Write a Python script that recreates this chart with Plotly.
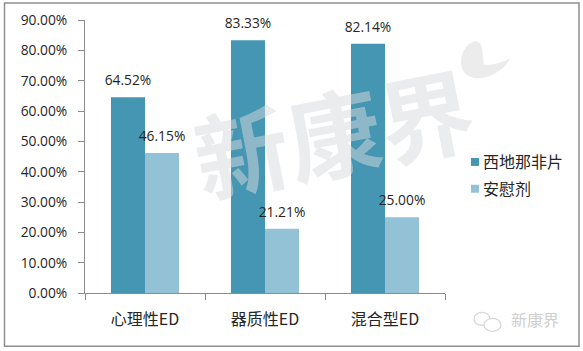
import plotly.graph_objects as go

categories = ["心理性ED", "器质性ED", "混合型ED"]
series_names = ["西地那非片", "安慰剂"]
sildenafil = [0.6452, 0.8333, 0.8214]
placebo = [0.4615, 0.2121, 0.25]
y_ticks = [0, 0.1, 0.2, 0.3, 0.4, 0.5, 0.6, 0.7, 0.8, 0.9]

W, H = 583, 351
L, AX_R, R, T, B = 85, 445, 581, 19.5, 293.5
FONT = "Noto Sans CJK SC"
TEXT = "#262626"
AX = "#8c8c8c"


def px(x):
    return (x - L) / (R - L)


def py(y):
    return (B - y) / (B - T)


def leaf_path():
    p = lambda x, y: f"{px(x):.4f},{py(y):.4f}"
    return (f"M{p(461, 62)} C{p(461, 50)} {p(470, 40)} {p(477, 41)} C{p(484, 42)} {p(482, 56)} {p(484, 64)} "
            f"C{p(492, 66)} {p(502, 62)} {p(510, 58)} C{p(506, 68)} {p(490, 79)} {p(475, 78)} "
            f"C{p(467, 77)} {p(461, 71)} {p(461, 62)} Z")


fig = go.Figure()
for name, vals, col in [(series_names[0], sildenafil, "#4596B2"), (series_names[1], placebo, "#93C2D6")]:
    fig.add_bar(
        x=categories, y=vals, name=name, marker=dict(color=col, line_width=0),
        text=[f"{v:.2%}" for v in vals], textposition="outside", cliponaxis=False,
        constraintext="none", textangle=0,
        textfont=dict(family="Open Sans", size=13.8, color=TEXT),
    )

fig.update_layout(
    width=W, height=H, autosize=False, margin=dict(l=L, r=W - R, t=T, b=H - B),
    paper_bgcolor="white", plot_bgcolor="white", barmode="group", bargap=0.433, bargroupgap=0,
    font=dict(family=FONT, color=TEXT),
    legend=dict(x=px(455), y=py(145), xanchor="left", yanchor="top", bgcolor="rgba(0,0,0,0)",
                font=dict(size=16, family=FONT, color=TEXT), tracegroupgap=0),
    xaxis=dict(domain=[0, px(AX_R)], showgrid=False, showline=True, linecolor=AX, linewidth=1,
               ticks="outside", ticklen=6, ticklabelstandoff=12,
               tickcolor=AX, tickson="boundaries", tickfont=dict(size=16, family=FONT, color=TEXT)),
    yaxis=dict(range=[0, 0.9], tickvals=y_ticks, tickformat=".2%", showgrid=False, zeroline=False,
               showline=True, linecolor=AX, linewidth=1, ticks="outside", ticklen=6, tickcolor=AX,
               ticklabelstandoff=8, tickfont=dict(size=13.8, family="Open Sans", color=TEXT)),
    shapes=[
        dict(type="rect", xref="paper", yref="paper", x0=px(4.5), x1=px(579), y0=py(347), y1=py(2.5),
             line=dict(color="#8f8f8f", width=1.5), fillcolor="rgba(0,0,0,0)", layer="below"),
        dict(type="path", xref="paper", yref="paper", path=leaf_path(), fillcolor="#ececec", line_width=0,
             layer="below"),
        dict(type="circle", xref="paper", yref="paper", x0=px(474), x1=px(490), y0=py(326), y1=py(313),
             line=dict(color="#d8d8d8", width=1.2)),
        dict(type="circle", xref="paper", yref="paper", x0=px(484), x1=px(501), y0=py(332), y1=py(319),
             line=dict(color="#d8d8d8", width=1.2), fillcolor="white"),
    ],
    annotations=[
        dict(text="<b>新康界</b>", xref="paper", yref="paper", x=px(333), y=py(130), xanchor="center",
             yanchor="middle", showarrow=False, textangle=-11,
             font=dict(size=94, family=FONT, color="rgba(215,218,220,0.5)")),
        dict(text="新康界", xref="paper", yref="paper", x=px(535), y=py(320), xanchor="center", yanchor="middle",
             showarrow=False, font=dict(size=16, family=FONT, color="#cfcfcf")),
    ],
)
fig.write_html(
    "out.html",
    config={"displayModeBar": False},
    post_script="""document.body.style.margin='0';
document.querySelectorAll('.legendtext').forEach(t=>t.setAttribute('x','28'));
document.querySelectorAll('.legendpoints path').forEach(p=>p.setAttribute('d','M4,4H-4V-4H4Z'));
document.querySelectorAll('.legend .scrollbox').forEach(s=>s.removeAttribute('clip-path'));
document.querySelectorAll('.legend .traces').forEach((t,i)=>{if(i==1)t.setAttribute('transform',t.getAttribute('transform').replace(/,\\s*([\\d.]+)\\)/,(m,y)=>','+(parseFloat(y)+3)+')'));});
document.querySelectorAll('.bars .bartext').forEach(t=>t.setAttribute('transform','translate(0,-5) '+(t.getAttribute('transform')||'')));
""",
)
